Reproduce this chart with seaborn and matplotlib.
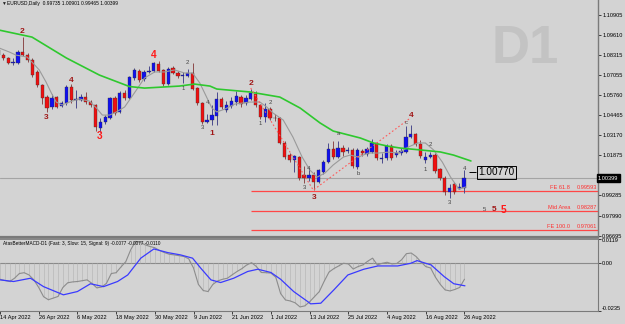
import matplotlib
matplotlib.use("Agg")
import matplotlib.pyplot as plt
import numpy as np
import pandas as pd
import seaborn as sns

# EURUSD daily candles, one per weekday 14 Apr 2022 .. 26 Aug 2022
opens = [1.0867, 1.0834, 1.0815, 1.0786, 1.0783, 1.0854, 1.0834, 1.0802, 1.0725, 1.0641,
         1.0563, 1.0499, 1.0563, 1.0505, 1.0525, 1.0628, 1.0547, 1.0544, 1.0563, 1.0531,
         1.0512, 1.0363, 1.0402, 1.0428, 1.0557, 1.0467, 1.0589, 1.0557, 1.0686, 1.0731,
         1.0679, 1.0728, 1.0731, 1.0776, 1.0738, 1.0647, 1.0750, 1.0718, 1.0702, 1.0699,
         1.0718, 1.0621, 1.0525, 1.0402, 1.0415, 1.0441, 1.0550, 1.0480, 1.0505, 1.0531,
         1.0563, 1.0525, 1.0550, 1.0583, 1.0512, 1.0434, 1.0486, 1.0431, 1.0428, 1.0267,
         1.0189, 1.0157, 1.0176, 1.0061, 1.0041, 1.0061, 1.0015, 1.0080, 1.0144, 1.0228,
         1.0176, 1.0234, 1.0215, 1.0222, 1.0112, 1.0215, 1.0196, 1.0209, 1.0267, 1.0164,
         1.0170, 1.0247, 1.0189, 1.0202, 1.0209, 1.0305, 1.0325, 1.0260, 1.0157, 1.0176,
         1.0189, 1.0099, 1.0041, 0.9951, 1.0002, 0.9973, 0.99735]
closes = [1.0834, 1.0815, 1.0783, 1.0792, 1.0854, 1.0834, 1.0802, 1.0705, 1.0641, 1.0557,
          1.0492, 1.0557, 1.0499, 1.0525, 1.0628, 1.0544, 1.0550, 1.0563, 1.0531, 1.0512,
          1.0370, 1.0402, 1.0434, 1.0557, 1.0460, 1.0589, 1.0557, 1.0692, 1.0738, 1.0673,
          1.0725, 1.0731, 1.0783, 1.0731, 1.0647, 1.0744, 1.0718, 1.0699, 1.0705, 1.0718,
          1.0615, 1.0525, 1.0402, 1.0415, 1.0447, 1.0550, 1.0499, 1.0512, 1.0538, 1.0570,
          1.0518, 1.0557, 1.0589, 1.0512, 1.0434, 1.0486, 1.0428, 1.0425, 1.0267, 1.0176,
          1.0157, 1.0183, 1.0041, 1.0041, 1.0061, 1.0015, 1.0093, 1.0144, 1.0228, 1.0176,
          1.0234, 1.0209, 1.0222, 1.0118, 1.0222, 1.0202, 1.0228, 1.0267, 1.0170, 1.0173,
          1.0247, 1.0170, 1.0202, 1.0215, 1.0305, 1.0325, 1.0260, 1.0183, 1.0176, 1.0189,
          1.0086, 1.0041, 0.9951, 0.9976, 0.9951, 0.9983, 1.00399]
highs = [1.0886, 1.0847, 1.0821, 1.0815, 1.0867, 1.0950, 1.0847, 1.0815, 1.0738, 1.0647,
         1.0576, 1.0583, 1.0570, 1.0538, 1.0641, 1.0647, 1.0609, 1.0583, 1.0596, 1.0544,
         1.0518, 1.0428, 1.0447, 1.0563, 1.0570, 1.0602, 1.0609, 1.0699, 1.0750, 1.0744,
         1.0738, 1.0763, 1.0789, 1.0796, 1.0744, 1.0757, 1.0763, 1.0731, 1.0725, 1.0744,
         1.0783, 1.0628, 1.0531, 1.0454, 1.0512, 1.0596, 1.0563, 1.0538, 1.0563, 1.0602,
         1.0576, 1.0576, 1.0615, 1.0602, 1.0518, 1.0525, 1.0499, 1.0454, 1.0434, 1.0280,
         1.0202, 1.0189, 1.0183, 1.0118, 1.0105, 1.0080, 1.0099, 1.0157, 1.0267, 1.0280,
         1.0280, 1.0254, 1.0241, 1.0234, 1.0234, 1.0228, 1.0241, 1.0293, 1.0273, 1.0202,
         1.0260, 1.0260, 1.0222, 1.0234, 1.0376, 1.0383, 1.0331, 1.0286, 1.0209, 1.0209,
         1.0202, 1.0105, 1.0054, 1.0002, 1.0015, 1.0009, 1.00901]
lows = [1.0821, 1.0802, 1.0776, 1.0770, 1.0776, 1.0828, 1.0789, 1.0692, 1.0628, 1.0518,
        1.0467, 1.0486, 1.0492, 1.0499, 1.0512, 1.0525, 1.0492, 1.0538, 1.0518, 1.0499,
        1.0344, 1.0338, 1.0389, 1.0422, 1.0447, 1.0460, 1.0544, 1.0550, 1.0673, 1.0660,
        1.0667, 1.0718, 1.0725, 1.0725, 1.0634, 1.0641, 1.0712, 1.0686, 1.0654, 1.0692,
        1.0609, 1.0512, 1.0389, 1.0396, 1.0383, 1.0383, 1.0486, 1.0467, 1.0492, 1.0512,
        1.0499, 1.0512, 1.0544, 1.0499, 1.0422, 1.0402, 1.0415, 1.0409, 1.0260, 1.0164,
        1.0144, 1.0080, 1.0028, 1.0009, 1.0022, 0.9963, 1.0009, 1.0067, 1.0138, 1.0164,
        1.0170, 1.0183, 1.0202, 1.0105, 1.0099, 1.0183, 1.0183, 1.0202, 1.0157, 1.0138,
        1.0157, 1.0157, 1.0176, 1.0189, 1.0202, 1.0299, 1.0247, 1.0170, 1.0138, 1.0170,
        1.0073, 1.0028, 0.9931, 0.9912, 0.9938, 0.9970, 0.99465]

# slow (green) and fast (grey) moving averages, read at a few bars
ma_slow_bar = [0, 6.9, 14, 20.8, 27, 30.1, 37.3, 40.4, 43.6, 45, 51.8, 58, 62.2,
               66.3, 69, 74.6, 77.3, 80.2, 82.9, 87, 91.1, 93.8, 97.4]
ma_slow = [1.0996, 1.0950, 1.0815, 1.0705, 1.0631, 1.0621, 1.0634, 1.0647, 1.0634,
           1.0615, 1.0596, 1.0563, 1.0492, 1.0396, 1.0344, 1.0299, 1.0267, 1.0247,
           1.0234, 1.0222, 1.0209, 1.0189, 1.0151]
ma_fast_bar = [0.1, 2.2, 3.6, 5.9, 6.9, 8.4, 9.8, 10.9, 11.9, 13.1, 14.6, 16.6, 18.7,
               20.2, 21.4, 22.9, 24.3, 26, 28, 30.1, 32.2, 34.2, 36.3, 38.4, 40, 41.5,
               42.9, 44, 45, 46.7, 48.7, 51.8, 53.9, 55.3, 56.6, 58.7, 60.7, 62.6, 64.2,
               65.7, 67.3, 69, 71.1, 72.5, 74.2, 76.2, 78.3, 80.4, 82.5, 84.5, 86.4, 88,
               89.7, 91.5, 93.2, 94.9, 96.3]
ma_fast = [1.0880, 1.0854, 1.0834, 1.0821, 1.0789, 1.0738, 1.0660, 1.0589, 1.0531,
           1.0512, 1.0531, 1.0551, 1.0538, 1.0492, 1.0447, 1.0447, 1.0467, 1.0499,
           1.0589, 1.0686, 1.0725, 1.0725, 1.0738, 1.0718, 1.0718, 1.0654, 1.0563,
           1.0492, 1.0467, 1.0486, 1.0518, 1.0531, 1.0531, 1.0499, 1.0460, 1.0415,
           1.0305, 1.0176, 1.0092, 1.0047, 1.0073, 1.0125, 1.0176, 1.0189, 1.0176,
           1.0202, 1.0202, 1.0208, 1.0202, 1.0241, 1.0267, 1.0267, 1.0222, 1.0144,
           1.0047, 0.9970, 0.9983]

# MACD main value per bar, and the signal line read at a few bars
macd_main = [-0.0080, -0.0086, -0.0091, -0.0075, -0.0052, -0.0048, -0.0059, -0.0083,
             -0.0120, -0.0165, -0.0180, -0.0172, -0.0164, -0.0120, -0.0097, -0.0093,
             -0.0091, -0.0087, -0.0083, -0.0100, -0.0122, -0.0118, -0.0100, -0.0052,
             -0.0048, -0.0020, 0.0006, 0.0063, 0.0105, 0.0100, 0.0088, 0.0080, 0.0074,
             0.0060, 0.0050, 0.0042, 0.0039, 0.0035, 0.0031, 0.0020, -0.0025, -0.0105,
             -0.0135, -0.0140, -0.0105, -0.0088, -0.0080, -0.0075, -0.0058, -0.0042,
             -0.0028, -0.0010, 0.0001, -0.0018, -0.0047, -0.0048, -0.0050, -0.0070,
             -0.0150, -0.0181, -0.0186, -0.0195, -0.0215, -0.0210, -0.0190, -0.0165,
             -0.0140, -0.0090, -0.0045, -0.0028, -0.0015, -0.0002, -0.0005, -0.0030,
             -0.0018, -0.0010, 0.0008, 0.0023, -0.0010, -0.0002, 0.0003, -0.0005,
             -0.0003, 0.0015, 0.0045, 0.0048, 0.0031, 0.0005, -0.0018, -0.0025,
             -0.0070, -0.0105, -0.0132, -0.0137, -0.0130, -0.0120, -0.0080]
signal_bar = [0, 2.8, 6.3, 9, 13.1, 16, 18.7, 21.4, 24.3, 26.4, 29.1, 31.8, 34.7, 37.3,
              39.8, 41.5, 43.6, 45.6, 48.3, 51.2, 53.3, 56, 58, 60.7, 63.6, 64.2, 66.3,
              69, 71.9, 75.2, 78.1, 82.2, 84.9, 86.2, 89.1, 91.8, 93.8, 96.1]
signal = [-0.0083, -0.0091, -0.0075, -0.0116, -0.0156, -0.0140, -0.0102, -0.0116,
          -0.0091, -0.0059, 0.0023, 0.0068, 0.0050, 0.0039, 0.0023, -0.0026, -0.0083,
          -0.0096, -0.0075, -0.0042, -0.0031, -0.0047, -0.0080, -0.0140, -0.0189,
          -0.0200, -0.0197, -0.0132, -0.0059, -0.0031, -0.0015, -0.0015, -0.0002,
          0.0011, -0.0010, -0.0067, -0.0102, -0.0112]

price_ticks = [1.10905, 1.09610, 1.08315, 1.07055, 1.05760, 1.04465, 1.03170,
               1.01875, 0.99285, 0.97990, 0.96695]
macd_ticks = [0.0119, 0.0, -0.0235]
macd_tick_labels = ["0.0119", "0.00", "-0.0235"]
last_price = 1.00399
marker_price = 1.00770

fib_levels = [0.99593, 0.98287, 0.97061]
fib_names = ["FE 61.8", "Mid Area", "FE 100.0"]
zigzag_bar = [52, 64.9, 85]
zigzag_price = [1.0621, 0.9963, 1.0430]

wave_bar = [4.9, 9.8, 15, 20.9, 32, 38, 39, 42, 43, 44, 52, 54, 56, 63, 64, 65.1,
            70, 74.1, 84, 85, 88, 89, 93, 96, 100.2, 102.1, 104.2]
wave_price = [1.0989, 1.0434, 1.0673, 1.0312, 1.0834, 1.0621, 1.0789, 1.0370, 1.0525,
              1.0331, 1.0652, 1.0394, 1.0527, 0.9983, 1.0105, 0.9918, 1.0325, 1.0067,
              1.0402, 1.0441, 1.0099, 1.0254, 0.9880, 1.0105, 0.9835, 0.9835, 0.9835]
wave_text = ["2", "3", "4", "3", "4", "1", "2", "3", "4", "1", "2", "1", "2", "3", "4",
             "3", "a", "b", "c", "4", "1", "2", "3", "4", "5", "5", "5"]
wave_kind = ["d", "d", "d", "r", "r", "g", "g", "g", "g", "d", "d", "g", "g", "g", "g",
             "d", "g", "g", "g", "d", "g", "g", "g", "g", "g", "d", "r"]

BG = "#d3d3d3"
sns.set_style("white", {"axes.facecolor": BG, "figure.facecolor": BG})
plt.rcParams["font.family"] = ["Liberation Sans", "DejaVu Sans"]

W, H = 625, 324
fig = plt.figure(figsize=(W / 100, H / 100), dpi=100)
ax = fig.add_axes([0, (H - 237) / H, 598 / W, 237 / H])
ax2 = fig.add_axes([0, (H - 311) / H, 598 / W, (311 - 238.5) / H])

o = np.array(opens); c = np.array(closes)
hi = np.array(highs); lo = np.array(lows)
bars = np.arange(len(o))
up = c >= o
dates = pd.bdate_range("2022-04-14", periods=len(o))

xlim = (0.307, 123.6)

# ---- main price panel
ax.axhline(last_price, color="#a4a4a4", lw=0.8, zorder=1)
ax.hlines(fib_levels, 52, xlim[1], color="#ff4646", lw=0.9, zorder=1)
ax.vlines(bars, lo, hi, colors=np.where(up, "#4a4a8c", "#8c4a4a"), lw=0.7, zorder=2)
ax.bar(bars, np.maximum(np.abs(c - o), 0.0005), bottom=np.minimum(o, c), width=0.68,
       color=np.where(up, "#1010f0", "#f01010"), edgecolor="#303030", lw=0.25, zorder=3)

sns.lineplot(x=ma_fast_bar, y=ma_fast, ax=ax, color="#9a9a9a", linewidth=0.8, sort=False, zorder=4)
sns.lineplot(x=ma_slow_bar, y=ma_slow, ax=ax, color="#2ec82e", linewidth=1.2, sort=False, zorder=4)
ax.plot(zigzag_bar, zigzag_price, color="#ff5a5a", lw=0.8, ls=(0, (1.5, 2)), zorder=4)

styles = {"g": dict(color="#454545", fontsize=4.3),
          "d": dict(color="#a01616", fontsize=6, fontweight="bold"),
          "r": dict(color="#ff1a1a", fontsize=7.3, fontweight="bold")}
for b, p, t, k in zip(wave_bar, wave_price, wave_text, wave_kind):
    ax.text(b, p, t, ha="center", va="center", zorder=5, **styles[k])

for lev, name in zip(fib_levels, fib_names):
    ax.text(117.9, lev + 0.0004, name, ha="right", va="bottom", fontsize=4.1, color="#ff3030")
    ax.text(123.4, lev + 0.0004, f"{lev:.5f}", ha="right", va="bottom", fontsize=4.1, color="#ff3030")

ax.hlines(marker_price, 97.0, 98.5, color="black", lw=0.7)
ax.text(98.9, marker_price, f"{marker_price:.5f}", ha="left", va="center", fontsize=7.2,
        color="black", bbox=dict(boxstyle="square,pad=0.12", fc="none", ec="black", lw=0.7))

ax.text(0.879, 0.793, "D1", transform=ax.transAxes, ha="center", va="center",
        fontsize=38, fontweight="bold", color="#c3c3c3", zorder=0)

ax.set_xlim(*xlim)
ax.set_ylim(0.96605, 1.11892)
ax.set_xticks([])
ax.yaxis.tick_right()
ax.set_yticks(price_ticks)
ax.set_yticklabels([f"{v:.5f}" for v in price_ticks])
ax.tick_params(axis="y", length=2, width=0.5, pad=1, labelsize=4.1, colors="black")
ax.set_xlabel(""); ax.set_ylabel("")
for s in ["top", "left"]:
    ax.spines[s].set_visible(False)
ax.spines["right"].set_color("#7a7a7a"); ax.spines["right"].set_linewidth(1)
ax.spines["bottom"].set_color("#7a7a7a"); ax.spines["bottom"].set_linewidth(1.6)

ax.text(1.0, last_price, f"{last_price:.5f}", transform=ax.get_yaxis_transform(),
        ha="left", va="center", fontsize=4.1, color="white", clip_on=False, zorder=6,
        bbox=dict(boxstyle="square,pad=0.25", fc="black", ec="black"))

# ---- MACD panel
ax2.axhline(0, color="#8a8a8a", lw=0.8)
ax2.vlines(bars, 0, macd_main, color="#b6b6b6", lw=0.45)
sns.lineplot(x=bars, y=macd_main, ax=ax2, color="#8c8c8c", linewidth=0.8)
sns.lineplot(x=signal_bar, y=signal, ax=ax2, color="#3a3aff", linewidth=0.9, sort=False)
ax2.set_xlim(*xlim)
ax2.set_ylim(-0.0235, 0.0119)
ax2.yaxis.tick_right()
ax2.set_yticks(macd_ticks)
ax2.set_yticklabels(macd_tick_labels)
ax2.tick_params(axis="y", length=2, width=0.5, pad=1, labelsize=4.1, colors="black")
labs = ax2.get_yticklabels()
labs[0].set_va("top"); labs[-1].set_va("bottom")

tick_bars = bars[::8]
ax2.set_xticks(tick_bars)
ax2.set_xticklabels([f"{d.day} {d:%b %Y}" for d in dates[tick_bars]], ha="left")
ax2.tick_params(axis="x", length=2, width=0.5, pad=1, labelsize=4.1, colors="black", bottom=True)
ax2.set_xlabel(""); ax2.set_ylabel("")
ax2.spines["left"].set_visible(False)
for s in ["top", "right", "bottom"]:
    ax2.spines[s].set_color("#7a7a7a")
ax2.spines["top"].set_linewidth(1.2)

fig.text(3 / W, 1 - 244 / H,
         "AtasBetterMACD-D1 (Fast: 3, Slow: 15, Signal: 9) -0.0077 -0.0077 -0.0110",
         ha="left", va="center", fontsize=3.4, color="black")
fig.text(1 / W, 1 - 3.5 / H, "\u25bc", ha="left", va="center", fontsize=3.5, color="#202020")
fig.text(7 / W, 1 - 3.5 / H, "EURUSD,Daily  0.99735 1.00901 0.99465 1.00399",
         ha="left", va="center", fontsize=3.5, color="black")

fig.savefig("out.png", dpi=100, facecolor=BG)
